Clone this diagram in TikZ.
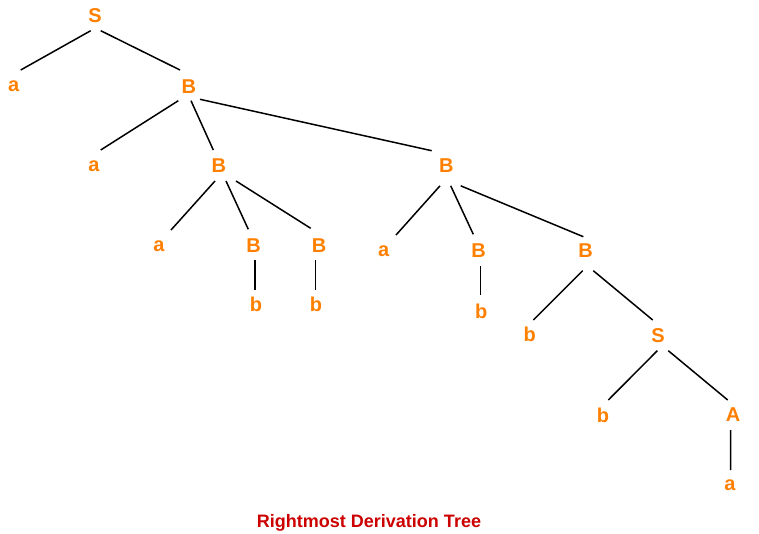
\documentclass[tikz,border=0pt]{standalone}
\usepackage{fontspec}
\setmainfont{Liberation Sans}
\definecolor{sym}{HTML}{FF8000}
\definecolor{cap}{HTML}{CC0000}
\begin{document}
\begin{tikzpicture}[x=0.75pt,y=-0.75pt,
  sy/.style={inner sep=0pt,text=sym,font=\bfseries\fontsize{15}{17}\selectfont},
  edge/.style={draw=black,line width=1.5*0.75pt}]
\useasboundingbox (0,0) rectangle (759,533);
\node[sy] (S) at (95,15.5) {S};
\node[sy] (a1) at (13.7,86.5) {a};
\node[sy] (B1) at (188.8,87) {B};
\node[sy] (a2) at (94,166) {a};
\node[sy] (B2) at (218.8,165.5) {B};
\node[sy] (B3) at (446.3,165.8) {B};
\node[sy] (a3) at (159,246) {a};
\node[sy] (B4) at (253.5,245.8) {B};
\node[sy] (B5) at (319,245.8) {B};
\node[sy] (b1) at (256,304) {b};
\node[sy] (b2) at (316,304) {b};
\node[sy] (a4) at (383.8,251.5) {a};
\node[sy] (B6) at (478.7,250.5) {B};
\node[sy] (B7) at (585.7,250.3) {B};
\node[sy] (b3) at (481.3,311) {b};
\node[sy] (b4) at (529.7,334.7) {b};
\node[sy] (S2) at (658,335.5) {S};
\node[sy] (b5) at (603,415) {b};
\node[sy] (A) at (733,415) {A};
\node[sy] (a5) at (730,485.5) {a};
\node[text=cap,font=\bfseries\fontsize{13.5}{15}\selectfont] (cap) at (369,523) {Rightmost Derivation Tree};
\foreach \u/\ux/\uy/\v/\vx/\vy in {
  S/-4.3/15.2/a1/7/-16.5,
  S/5.7/15.2/B1/-8.8/-17,
  B1/-10.5/13.7/a2/6.7/-16,
  B1/2.2/13.7/B2/-5.5/-15.5,
  B1/11.2/12.3/B3/-14.6/-15.1,
  B2/-3.8/15.5/a3/12/-16,
  B2/7.2/15.5/B4/-5.2/-16.5,
  B2/17.2/15.5/B5/-8.3/-17.5,
  B4/1.5/14.2/b1/-1/-14,
  B5/-3.3/14.2/b2/-0.3/-14,
  B3/-6.3/20/a4/12.2/-16.5,
  B3/4.4/20/B6/-5.4/-16.2,
  B3/14.4/20/B7/-2.4/-13.6,
  B6/2/15.5/b3/-0.6/-16,
  B7/-3/20.4/b4/3.6/-14.7,
  B7/7.6/20.4/S2/-5.3/-15.5,
  S2/-0.7/15.2/b5/5.3/-15,
  S2/10.3/15.2/A/-5.3/-15,
  A/-2.3/15/a5/0.7/-15.5}
  \draw[edge] ([shift={(\ux,\uy)}]\u.center) -- ([shift={(\vx,\vy)}]\v.center);
\end{tikzpicture}
\end{document}
